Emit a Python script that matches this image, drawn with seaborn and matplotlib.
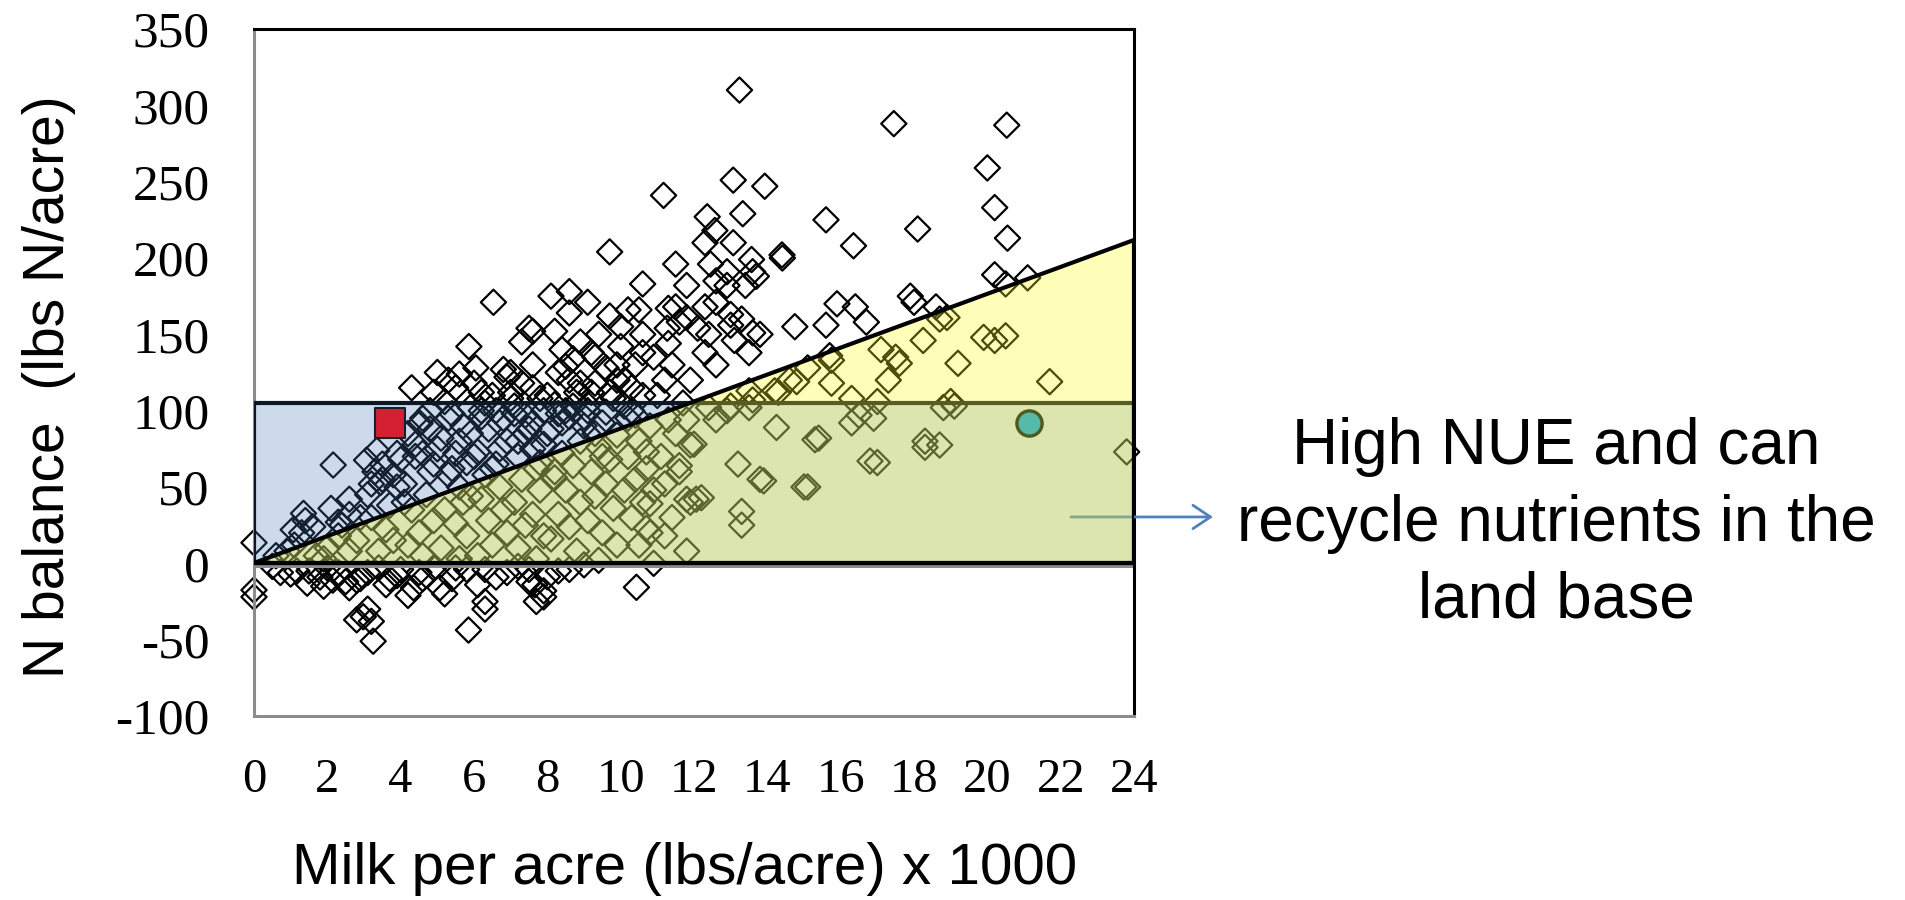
import matplotlib
matplotlib.use("Agg")
import matplotlib.pyplot as plt
import matplotlib.transforms as mtransforms
from matplotlib.patches import Polygon, Rectangle
import pandas as pd
import seaborn as sns

# Whole-farm survey: milk shipped per acre (x 1000 lbs) and N balance (lbs N/acre)
milk = [
    # near / below zero balance
    0.0, 0.0, 0.0, 3.25, 2.98, 2.8, 5.85, 6.3, 6.3, 7.7, 8.0, 10.43, 7.5, 5.07, 4.35,
    3.6, 2.8, 1.9, 1.45, 0.72, 1.17, 2.15, 2.3, 3.1, 3.7, 4.6, 5.4, 5.8, 6.3, 6.1,
    6.9, 7.5, 8.6, 10.9, 4.2, 3.1, 3.2, 0.5, 1.0, 1.5, 2.0, 2.5, 2.6, 3.4, 4.0,
    4.9, 5.2, 5.5, 6.6, 7.2, 7.9, 8.3, 9.0, 9.4, 2.9, 3.9, 1.8, 4.5, 7.66, 7.9,
    # upper cloud
    11.17, 9.7, 11.5, 6.53, 10.6, 8.1, 8.6, 8.6, 9.1, 9.7, 10.0, 10.5, 11.3, 11.6,
    7.6, 8.2, 5.86, 9.3, 10.6, 10.0, 11.3, 6.05, 6.8, 5.6, 7.6, 8.5,
    13.24, 17.45, 20.53, 20.0, 20.2, 20.55, 13.07, 13.93, 13.33, 12.36, 12.57, 13.07,
    15.6, 16.35, 18.1, 12.3, 13.57, 14.41, 14.4, 11.8, 12.45, 12.9, 13.6, 12.6, 12.9,
    13.4, 13.7, 12.6, 12.3, 11.5, 11.8, 12.4, 12.1, 13.0, 13.3, 13.6, 13.1, 13.5,
    13.0, 13.8, 14.75, 15.6, 15.9, 16.4, 16.7, 18.0, 17.9, 18.6, 20.2, 20.5, 21.1,
    18.25, 19.9, 20.5, 20.2, 19.2, 17.1, 17.5, 15.7, 15.1, 18.7, 18.9, 11.27,
    4.9, 5.5, 6.2, 7.0, 7.6, 8.0, 8.6, 9.2, 9.9, 10.3,
    # high-milk farms under the line
    21.7, 17.6, 17.3, 15.75, 15.75, 14.6, 14.2, 13.5, 16.3, 17.0, 19.0, 18.8, 16.5,
    16.9, 16.3, 14.25, 15.3, 11.9, 11.8, 12.9, 13.5, 12.4, 18.7, 18.3, 16.8, 13.2,
    13.8, 15.1, 11.2, 10.9, 11.9, 11.8, 13.3, 13.3, 10.8, 11.2, 10.7, 23.8, 10.7,
    12.06, 12.2, 11.6, 12.0, 12.6, 13.0, 13.6, 14.3, 14.8, 12.3, 12.6, 13.9, 15.0,
    15.4, 17.0, 18.3, 19.1,
    # dense cloud, 0-12
    1.35, 1.07, 2.1, 2.3, 2.16, 3.07, 3.35, 4.53, 2.6,
    1.3, 1.4, 1.6, 1.1, 1.7, 1.9, 2.6, 2.4, 2.8, 2.6, 2.9, 0.6, 0.9, 2.0, 2.3,
    3.1, 3.3, 3.5, 3.2, 3.6, 3.8, 3.4, 3.9, 3.7, 3.5, 3.9, 3.45,
    4.3, 4.6, 4.2, 4.4, 4.8, 4.1, 4.7, 4.3, 4.9, 4.5, 4.2, 4.6, 4.8, 4.4, 4.9, 4.1,
    5.0, 5.2, 5.4, 5.7, 5.1, 5.5, 5.8, 5.3, 5.6, 5.9, 5.2, 5.5, 5.8, 5.1, 5.6, 5.3,
    5.9, 5.4, 5.7,
    6.5, 6.2, 6.8, 6.4, 6.9, 6.1, 6.6, 6.3, 6.7, 6.2, 6.8, 6.4, 6.9, 6.5, 6.1, 6.3,
    6.7, 6.5, 6.0, 6.9,
    7.5, 7.3, 7.8, 7.1, 7.6, 7.4, 7.9, 7.2, 7.7, 7.3, 7.8, 7.1, 7.6, 7.4, 7.9, 7.2,
    7.7, 7.3, 7.0, 7.5, 7.8, 7.0,
    8.7, 8.3, 8.8, 8.2, 8.6, 8.1, 8.9, 8.4, 8.7, 8.2, 8.5, 8.9, 8.3, 8.6, 8.1, 8.8,
    8.4, 8.9, 8.5, 8.2, 8.9,
    9.2, 9.6, 9.3, 9.8, 9.1, 9.5, 9.9, 9.4, 9.7, 9.2, 9.6, 9.3, 9.8, 9.1, 9.5, 9.9,
    9.4, 9.7, 9.0, 9.5, 9.9,
    10.2, 10.4, 10.1, 10.6, 10.3, 10.8, 10.5, 10.2, 10.7, 10.4, 10.1, 10.6, 10.3,
    10.8, 10.5, 10.9, 10.2, 10.6,
    11.4, 11.2, 11.7, 11.3, 11.5, 11.1, 11.6, 11.4, 11.8, 11.0, 11.9,
    4.8, 5.3, 5.9, 6.2, 6.6, 7.1, 7.4, 7.9, 8.3, 8.7, 9.1, 9.6, 10.1, 10.4,
    5.0, 5.6, 6.0, 6.7, 7.2, 7.6, 8.0, 8.4, 9.0, 9.3, 4.6, 4.0, 3.8, 3.2,
]
nbal = [
    13.5, -17.5, -22, -51, -35, -37, -43.7, -25, -30, -25, -8.8, -15.7, -12, -16, -16,
    -14, -11, -15, -13, -6, -5, -11, -6, -6, -10, -10, -10, -4, -4, -14,
    -6, -4, -4, 0, -21, -30, -38, -2, -7, -5, -3, -12, -16, -3, -4,
    -3, -20, -3, -9, -2, -18, -5, -1, 2, -10, -8, -9, -6, -14, -22,
    241, 204, 196, 171, 183, 175, 178, 164, 171, 162, 155, 166, 167, 158,
    152, 152, 142, 135, 138, 142, 144, 128, 127, 124, 130, 129,
    310, 288, 287, 259, 233, 213, 251, 247, 229, 227, 218, 210,
    225, 208, 219, 210, 199, 200, 202, 182, 196, 191, 191, 185, 182,
    182, 188, 171, 168, 168, 161, 150, 154, 163, 160, 151, 146, 138,
    156, 150, 155, 156, 170, 168, 158, 171, 175, 168, 189, 183, 187,
    146, 148, 149, 146, 131, 140, 135, 136, 128, 160, 161, 154,
    112, 115, 112, 108, 115, 110, 120, 112, 120, 115,
    119, 131, 120, 118, 133, 120, 113, 113, 108, 106, 106, 102, 97,
    95, 92, 89, 81, 77.5, 94, 100, 102, 102, 77.5, 76, 67, 65,
    55, 50, 52, 48, 40, 42, 34, 25, 39, 18, 23, 73, 73,
    42, 43, 64, 78, 94, 103, 107, 112, 119, 138, 130, 54, 50,
    82, 66, 80, 103,
    32.7, 22, 36, 27, 64.4, 67.6, 74, 91.7, 42,
    20, 28, 24, 12, 5, 3, 32, 25, 15, 8, 30, 5, 8, 10, 18,
    45, 60, 65, 30, 22, 15, 8, 50, 38, 55, 72, 53,
    115, 95, 85, 70, 60, 52, 45, 35, 28, 20, 12, 5, 88, 78, 65, 40,
    125, 106, 98, 90, 82, 72, 66, 58, 50, 44, 35, 26, 18, 10, 3, 120,
    85, 62, 40,
    110, 100, 95, 88, 80, 73, 65, 58, 50, 42, 35, 28, 20, 12, 5, 105,
    92, 62, 118, 122,
    154, 118, 108, 98, 92, 85, 78, 70, 62, 55, 48, 40, 32, 25, 18, 10,
    3, 145, 112, 88, 66, 125,
    134, 125, 112, 104, 96, 88, 80, 72, 64, 56, 48, 40, 32, 24, 16, 8,
    140, 118, 100, 60, 145,
    138, 128, 118, 108, 100, 92, 84, 76, 68, 60, 52, 44, 36, 28, 20, 12,
    150, 112, 90, 70, 130,
    166, 130, 120, 110, 100, 90, 80, 70, 62, 55, 48, 40, 30,
    20, 12, 135, 95, 150,
    130, 120, 105, 94, 85, 70, 60, 30, 8, 110, 120,
    100, 95, 102, 96, 100, 103, 97, 100, 98, 103, 104, 99, 103, 97,
    75, 80, 70, 75, 80, 75, 85, 92, 96, 85, 72, 68, 58, 52,
]

# Highlighted farms
farm_milk = [3.72]
farm_nbal = [92]
goal_milk = [21.15]
goal_nbal = [91.6]

# Zone boundaries
band_top = 105          # upper limit of the acceptable N balance band
line_end = 212          # boundary line value at 24,000 lbs milk/acre
x_max = 24

x_ticks = [0, 2, 4, 6, 8, 10, 12, 14, 16, 18, 20, 22, 24]
y_ticks = [-100, -50, 0, 50, 100, 150, 200, 250, 300, 350]

note_lines = ["High NUE and can", "recycle nutrients in the", "land base"]
x_label = "Milk per acre (lbs/acre) x 1000"
y_label = "N balance  (lbs N/acre)"

sns.set_theme(style="white")
plt.rcParams["font.family"] = ["Liberation Sans", "DejaVu Sans"]
plt.rcParams["text.color"] = "black"
plt.rcParams["xtick.color"] = "black"
plt.rcParams["ytick.color"] = "black"

fig = plt.figure(figsize=(19.06, 9.0), dpi=100)
ax = fig.add_axes([0.13326, 0.20444, 0.46170, 0.76333])

df = pd.DataFrame({"milk": milk, "nbal": nbal})
sns.scatterplot(data=df, x="milk", y="nbal", marker="D", s=165, ax=ax,
                legend=False, zorder=2, linewidth=1.6, edgecolor="black",
                clip_on=False)
ax.collections[-1].set_facecolor("none")

# Excel-style horizontal axis at zero, just under the zone edge
below = mtransforms.offset_copy(ax.transData, fig=fig, y=-2.5, units="dots")
ax.plot([0, x_max], [0, 0], color="#8C8C8C", lw=2.2, transform=below, zorder=2.5)

# Acceptable balance band (0..band_top)
ax.add_patch(Rectangle((0, 0), x_max, band_top,
                       facecolor=(67 / 255, 119 / 255, 185 / 255, 0.27),
                       edgecolor="#0E1726", lw=3, zorder=3))
# High nutrient use efficiency zone, below the boundary line
ax.add_patch(Polygon([(0, 0), (x_max, 0), (x_max, line_end)], closed=True,
                     facecolor=(1.0, 1.0, 28 / 255, 0.30),
                     edgecolor="black", lw=3, zorder=4))

sns.scatterplot(x=farm_milk, y=farm_nbal, marker="s", s=440, color="#D42032",
                edgecolor="#13202F", linewidth=1.5, ax=ax, legend=False, zorder=6)
sns.scatterplot(x=goal_milk, y=goal_nbal, marker="o", s=330, color="#55BAA7",
                edgecolor="#4F5A1E", linewidth=2.4, ax=ax, legend=False, zorder=6)

ax.set_xlim(0, x_max)
ax.set_ylim(-100, 350)
ax.set_xticks(x_ticks)
ax.set_yticks(y_ticks)
ax.set_xticklabels([str(t) for t in x_ticks], family="Liberation Serif", fontsize=35)
ax.set_yticklabels([str(t) for t in y_ticks], family="Liberation Serif", fontsize=37)
ax.tick_params(axis="x", length=0, pad=30, colors="black")
ax.tick_params(axis="y", length=0, pad=32, colors="black")
ax.set_xlabel("")
ax.set_ylabel("")
ax.grid(False)

for side in ("top", "right"):
    ax.spines[side].set_color("black")
    ax.spines[side].set_linewidth(2.2)
for side in ("left", "bottom"):
    ax.spines[side].set_color("#8C8C8C")
    ax.spines[side].set_linewidth(2.2)

fig.text(0.3594, 1 - 884 / 900, x_label, ha="center", va="baseline",
         fontsize=42, color="black")
fig.text(0.0257, 1 - 387 / 900, y_label, ha="center", va="center",
         rotation=90, fontsize=41, color="black")

ax.annotate("", xy=(0.6364, 0.4256), xycoords="figure fraction",
            xytext=(0.5619, 0.4256), textcoords="figure fraction",
            annotation_clip=False,
            arrowprops=dict(arrowstyle="->, head_length=0.45, head_width=0.3",
                            color="#4F81BD", lw=2, mutation_scale=28,
                            shrinkA=0, shrinkB=0))

for line, base in zip(note_lines, [464, 541, 617.5]):
    fig.text(0.8164, 1 - base / 900, line, ha="center", va="baseline",
             fontsize=46, color="black")

fig.savefig("out.png", dpi=100)
